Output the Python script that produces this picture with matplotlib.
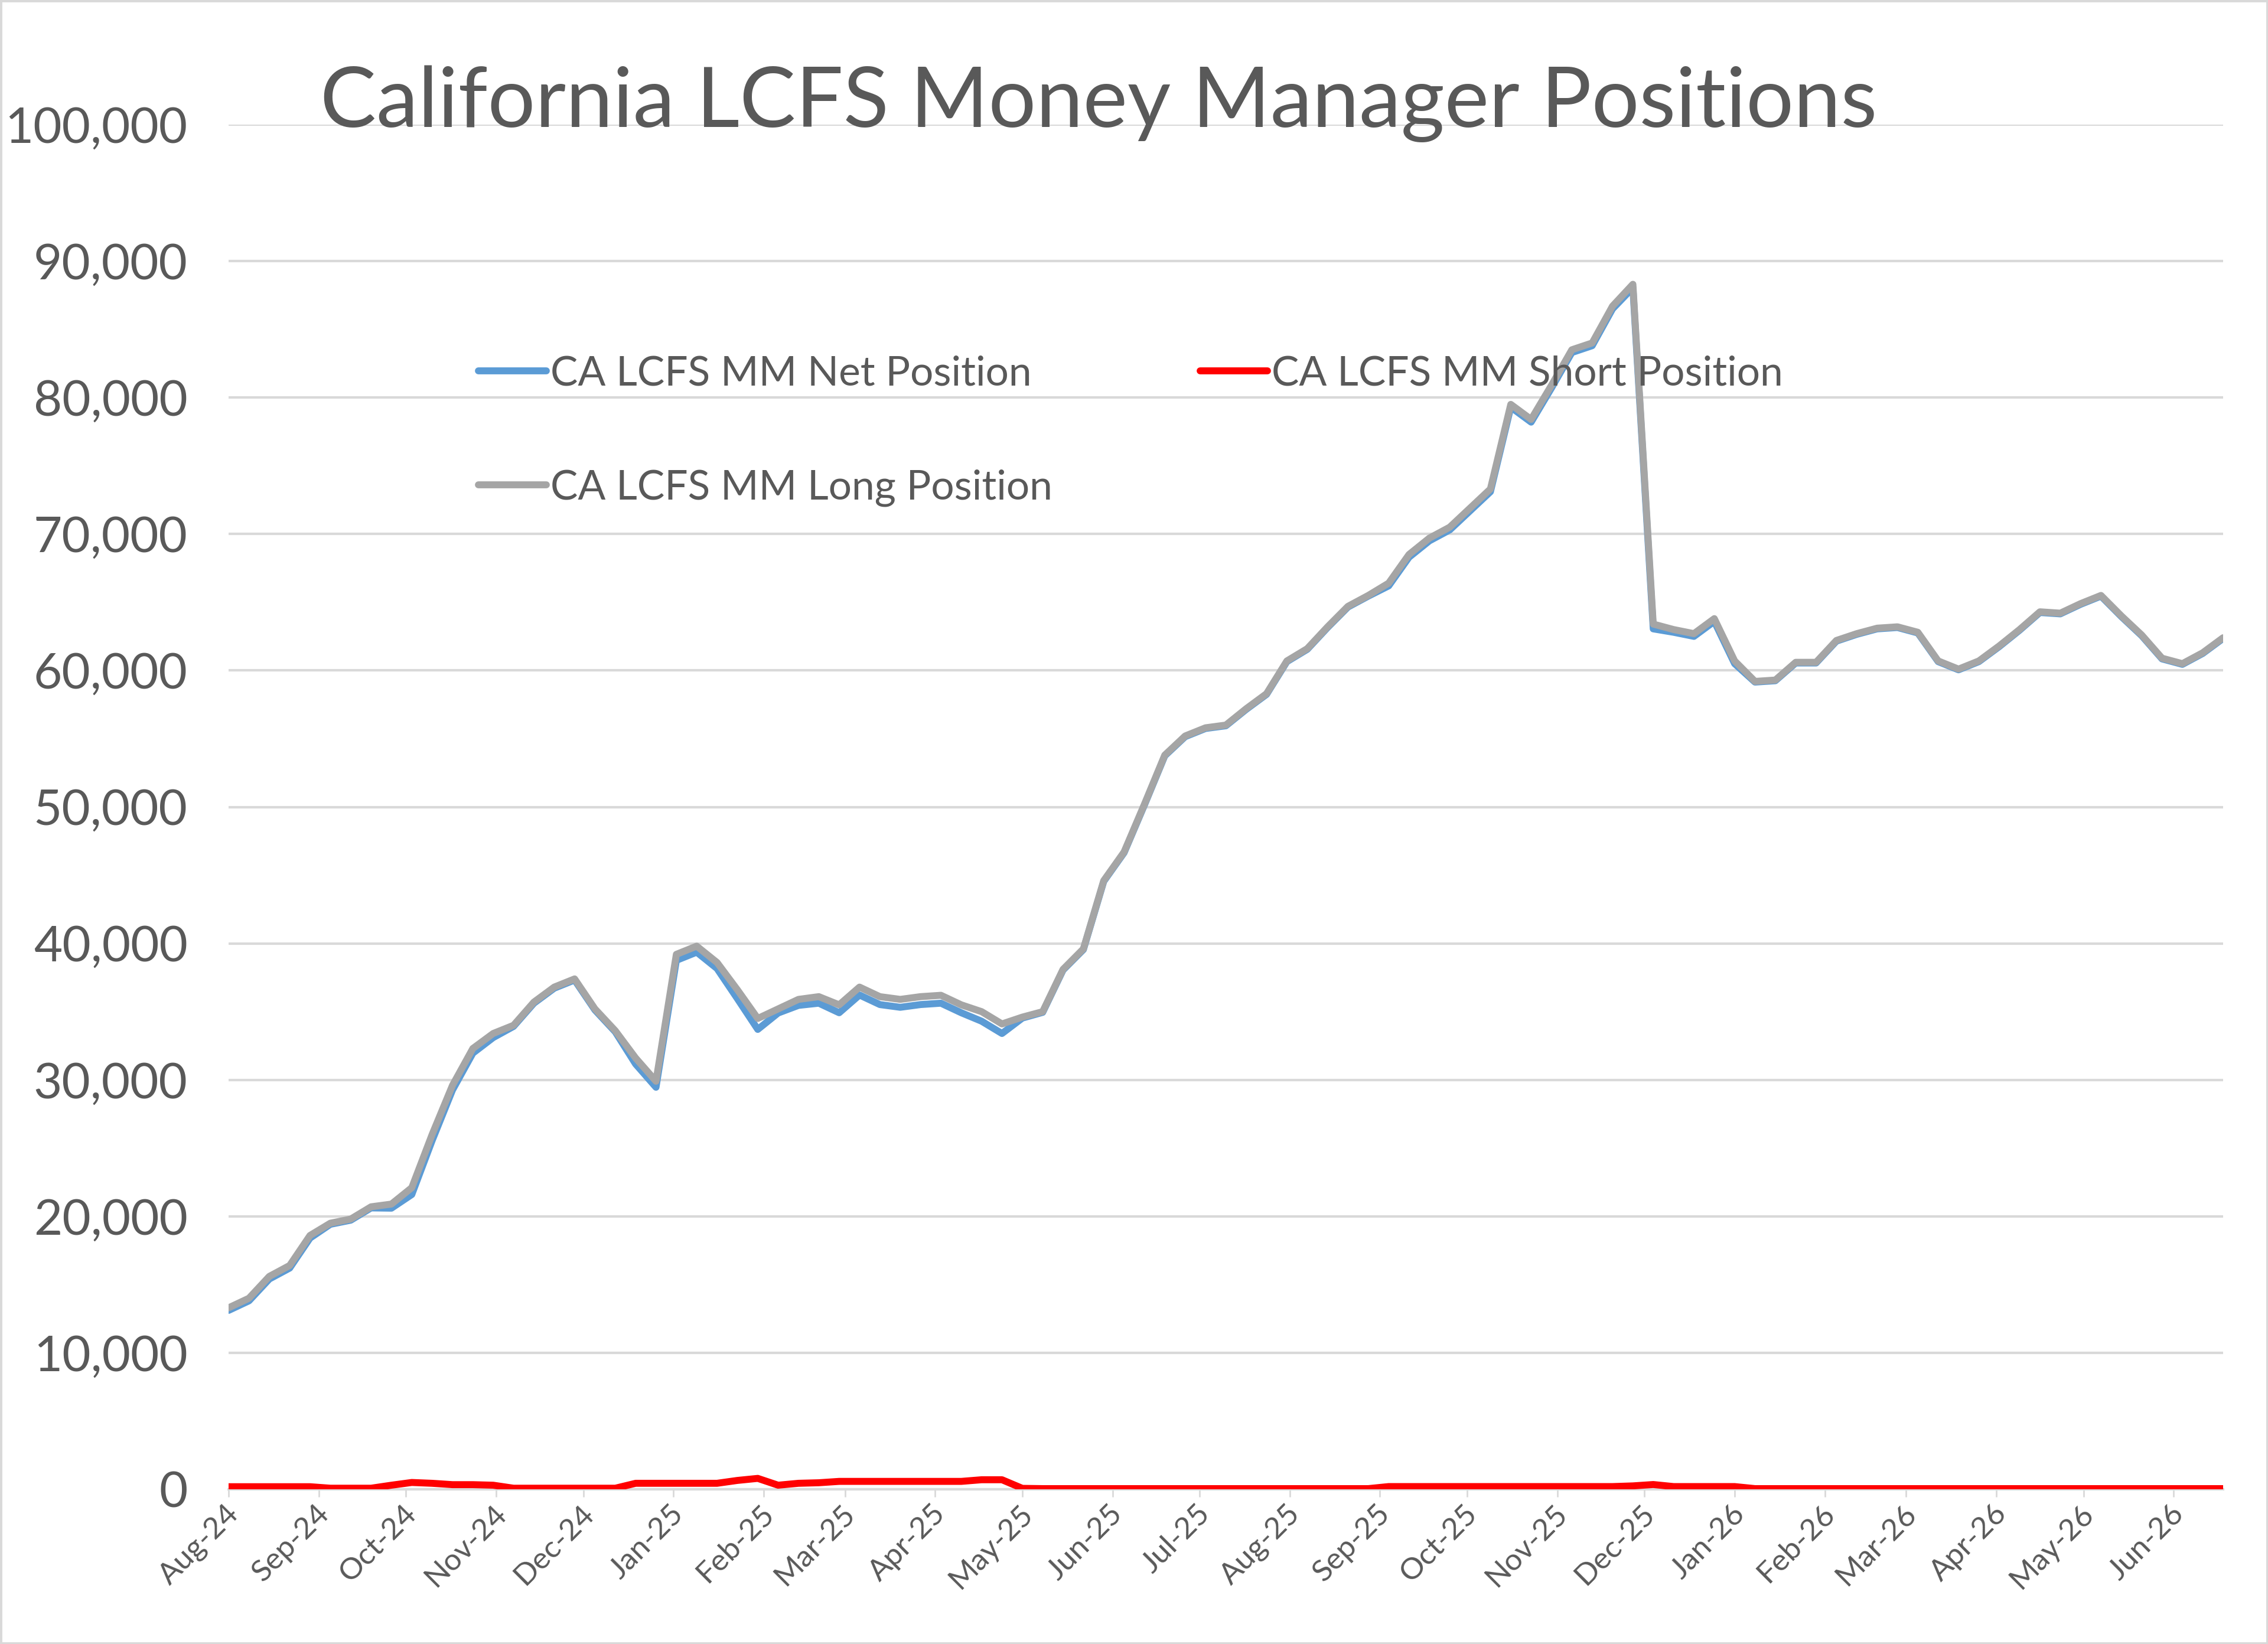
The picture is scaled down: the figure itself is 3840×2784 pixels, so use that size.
import matplotlib
matplotlib.use('Agg')
import matplotlib.pyplot as plt
import matplotlib.dates as mdates
import matplotlib.transforms as mtransforms
import pandas as pd
from matplotlib.ticker import FuncFormatter, MultipleLocator
from matplotlib.patches import Rectangle

# weekly report dates (99 weeks)
dates = pd.date_range('2024-08-06', periods=99, freq='7D')

long_pos = [13300, 14000, 15600, 16400, 18600, 19500, 19800, 20700, 20900, 22100,
            26000, 29600, 32300, 33400, 34000, 35700, 36800, 37400, 35200, 33600,
            31600, 29900, 39200, 39800, 38600, 36600, 34500, 35200, 35900, 36100,
            35500, 36800, 36100, 35900, 36100, 36200, 35500, 35000, 34100, 34600,
            35000, 38100, 39600, 44600, 46700, 50200, 53800, 55200, 55800, 56000,
            57200, 58300, 60700, 61600, 63200, 64700, 65500, 66400, 68500, 69700,
            70500, 71900, 73300, 79500, 78400, 80900, 83500, 84000, 86700, 88300,
            63400, 63000, 62700, 63800, 60700, 59200, 59300, 60600, 60600, 62200,
            62700, 63100, 63200, 62800, 60700, 60100, 60700, 61800, 63000, 64300,
            64200, 64900, 65500, 64000, 62600, 60900, 60500, 61300, 62400]

short_pos = [190, 190, 190, 190, 190, 80, 80, 80, 300, 500,
             440, 340, 340, 300, 80, 80, 80, 80, 80, 80,
             440, 440, 440, 440, 440, 650, 800, 300, 440, 480,
             580, 580, 580, 580, 580, 580, 580, 700, 700, 70,
             50, 50, 50, 50, 50, 50, 50, 50, 50, 50,
             50, 50, 50, 50, 50, 50, 50, 200, 200, 200,
             200, 200, 200, 200, 200, 200, 200, 200, 200, 250,
             350, 200, 200, 200, 200, 50, 50, 50, 50, 50,
             50, 50, 50, 50, 50, 50, 50, 50, 50, 50,
             50, 50, 50, 50, 50, 50, 50, 50, 50]

net_pos = [13110, 13810, 15410, 16210, 18410, 19420, 19720, 20620, 20600, 21600,
           25560, 29260, 31960, 33100, 33920, 35620, 36720, 37320, 35120, 33520,
           31160, 29460, 38760, 39360, 38160, 35950, 33700, 34900, 35460, 35620,
           34920, 36220, 35520, 35320, 35520, 35620, 34920, 34300, 33400, 34530,
           34950, 38050, 39550, 44550, 46650, 50150, 53750, 55150, 55750, 55950,
           57150, 58250, 60650, 61550, 63150, 64650, 65450, 66200, 68300, 69500,
           70300, 71700, 73100, 79300, 78200, 80700, 83300, 83800, 86500, 88050,
           63050, 62800, 62500, 63600, 60500, 59150, 59250, 60550, 60550, 62150,
           62650, 63050, 63150, 62750, 60650, 60050, 60650, 61750, 62950, 64250,
           64150, 64850, 65450, 63950, 62550, 60850, 60450, 61250, 62350]

tick_dates = pd.date_range('2024-08-06', periods=23, freq=pd.DateOffset(months=1))

FONT = 'Lato'
TXT = '#595959'
GRID = '#D9D9D9'

plt.rcParams['font.family'] = FONT

fig = plt.figure(figsize=(38.4, 27.84), dpi=100)
ax = fig.add_axes([0.1008, 0.0941, 0.8794, 0.8301])

lw = 8.5
l_net, = ax.plot(dates, net_pos, color='#5B9BD5', lw=lw, solid_joinstyle='round',
                 solid_capstyle='round', label='CA LCFS MM Net Position', zorder=3)
l_short, = ax.plot(dates, short_pos, color='#FF0000', lw=lw, solid_joinstyle='round',
                   solid_capstyle='round', label='CA LCFS MM Short Position', zorder=3)
l_long, = ax.plot(dates, long_pos, color='#A5A5A5', lw=lw, solid_joinstyle='round',
                  solid_capstyle='round', label='CA LCFS MM Long Position', zorder=4)

ax.set_ylim(0, 100000)
ax.set_xlim(dates[0], dates[-1])
ax.yaxis.set_major_locator(MultipleLocator(10000))
ax.yaxis.set_major_formatter(FuncFormatter(lambda v, p: '{:,.0f}'.format(v)))
ax.grid(axis='y', color=GRID, lw=3)
ax.set_axisbelow(True)

ax.set_xticks(tick_dates)
ax.xaxis.set_major_formatter(mdates.DateFormatter('%b-%y'))

for s in ['top', 'right', 'left']:
    ax.spines[s].set_visible(False)
ax.spines['bottom'].set_color(GRID)
ax.spines['bottom'].set_linewidth(3)

ax.tick_params(axis='y', length=0, pad=50, labelsize=60, labelcolor=TXT)
ax.tick_params(axis='x', length=9, width=2, color=GRID, pad=12, labelsize=37, labelcolor=TXT)
shift = mtransforms.ScaledTranslation(0.1, -0.05, fig.dpi_scale_trans)
for lab in ax.get_xticklabels():
    lab.set_rotation(45)
    lab.set_ha('right')
    lab.set_va('center')
    lab.set_rotation_mode('anchor')
    lab.set_transform(lab.get_transform() + shift)

# legend: row 1 Net / Short, row 2 Long
leg = fig.legend([l_net, l_long, l_short],
                 ['CA LCFS MM Net Position', 'CA LCFS MM Long Position',
                  'CA LCFS MM Short Position'],
                 ncol=2, loc='upper left', bbox_to_anchor=(0.211, 0.784),
                 frameon=False, fontsize=50, handlelength=1.65, handletextpad=0.1,
                 columnspacing=3.6, labelspacing=1.87, borderpad=0, borderaxespad=0)
for t in leg.get_texts():
    t.set_color(TXT)

fig.text(0.4844, 0.9226, 'California LCFS Money Manager Positions', ha='center',
         va='baseline', fontsize=102.5, color=TXT)

fig.patches.append(Rectangle((0, 0), 1, 1, transform=fig.transFigure, fill=False,
                             edgecolor=GRID, lw=5))

fig.savefig('out.png', dpi=100)
